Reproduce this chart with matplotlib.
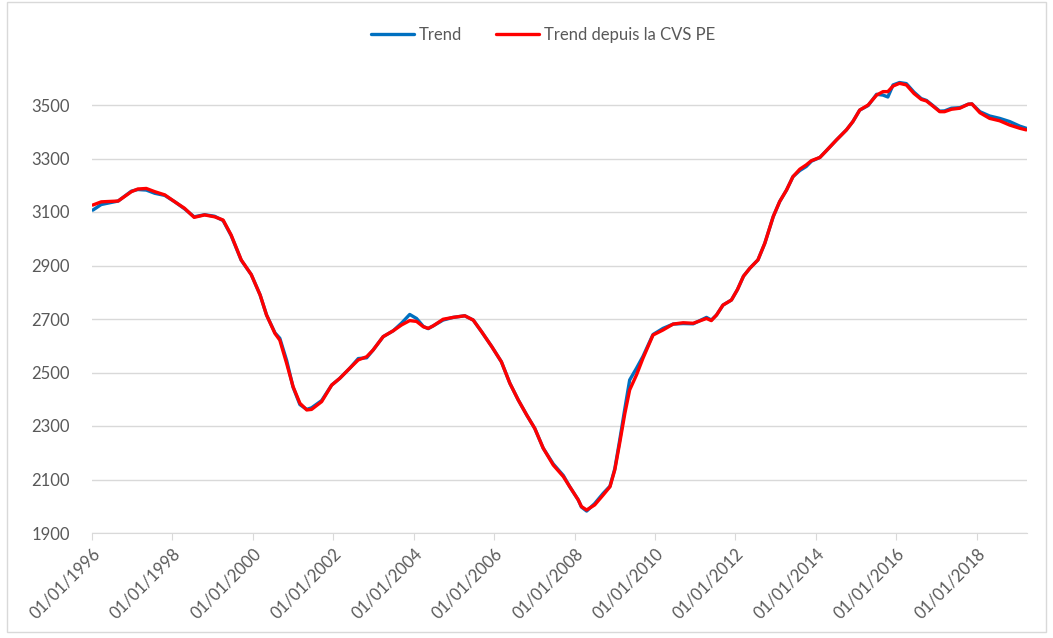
import matplotlib
matplotlib.use("Agg")
import matplotlib.pyplot as plt
from matplotlib.patches import Rectangle

# decimal years
years = [
    1996.02, 1996.23, 1996.65, 1996.98, 1997.14, 1997.35, 1997.56, 1997.81,
    1998.06, 1998.30, 1998.54, 1998.80, 1999.05, 1999.26, 1999.46, 1999.71,
    1999.96, 2000.18, 2000.34, 2000.55, 2000.67, 2000.84, 2001.00, 2001.17,
    2001.34, 2001.46, 2001.71, 2001.96, 2002.16, 2002.41, 2002.62, 2002.83,
    2002.99, 2003.24, 2003.49, 2003.70, 2003.90, 2004.07, 2004.24, 2004.36,
    2004.48, 2004.73, 2004.98, 2005.27, 2005.48, 2005.69, 2005.94, 2006.18,
    2006.39, 2006.60, 2006.81, 2007.01, 2007.22, 2007.47, 2007.72, 2007.88,
    2008.09, 2008.17, 2008.30, 2008.50, 2008.71, 2008.88, 2009.00, 2009.12,
    2009.25, 2009.37, 2009.54, 2009.70, 2009.95, 2010.20, 2010.45, 2010.70,
    2010.95, 2011.28, 2011.40, 2011.53, 2011.69, 2011.90, 2012.05, 2012.20,
    2012.36, 2012.56, 2012.73, 2012.94, 2013.10, 2013.27, 2013.43, 2013.60,
    2013.76, 2013.89, 2014.10, 2014.26, 2014.51, 2014.76, 2014.92, 2015.09,
    2015.30, 2015.51, 2015.67, 2015.79, 2015.92, 2016.08, 2016.25, 2016.44,
    2016.62, 2016.75, 2016.91, 2017.08, 2017.20, 2017.37, 2017.58, 2017.79,
    2017.88, 2018.08, 2018.32, 2018.57, 2018.82, 2019.07, 2019.23,
]

trend = [
    3107, 3128, 3141, 3178, 3184, 3182, 3170, 3162,
    3138, 3112, 3082, 3090, 3084, 3068, 3012, 2920,
    2866, 2790, 2715, 2648, 2628, 2545, 2445, 2380,
    2362, 2368, 2395, 2453, 2478, 2516, 2552, 2555,
    2584, 2634, 2656, 2685, 2717, 2702, 2672, 2664,
    2674, 2696, 2706, 2712, 2696, 2652, 2597, 2540,
    2460, 2397, 2341, 2291, 2217, 2158, 2115, 2073,
    2024, 1997, 1982, 2010, 2048, 2075, 2140, 2245,
    2365, 2472, 2516, 2560, 2642, 2665, 2681, 2683,
    2682, 2706, 2696, 2715, 2752, 2771, 2810, 2860,
    2890, 2921, 2983, 3083, 3139, 3182, 3232, 3255,
    3270, 3290, 3304, 3329, 3369, 3407, 3438, 3481,
    3498, 3540, 3537, 3530, 3575, 3584, 3580, 3548,
    3524, 3517, 3498, 3477, 3478, 3488, 3490, 3503,
    3504, 3475, 3459, 3450, 3438, 3421, 3413,
]

trend_cvs = [
    3126, 3138, 3141, 3176, 3186, 3188, 3176, 3164,
    3138, 3114, 3080, 3089, 3082, 3070, 3014, 2921,
    2866, 2790, 2715, 2646, 2621, 2534, 2447, 2385,
    2360, 2362, 2391, 2453, 2478, 2516, 2547, 2559,
    2584, 2634, 2656, 2678, 2694, 2691, 2671, 2665,
    2674, 2699, 2706, 2712, 2696, 2652, 2597, 2540,
    2460, 2397, 2341, 2291, 2217, 2154, 2111, 2073,
    2024, 1999, 1986, 2005, 2042, 2073, 2136, 2235,
    2347, 2435, 2491, 2553, 2640, 2659, 2681, 2686,
    2684, 2702, 2694, 2715, 2752, 2771, 2810, 2860,
    2890, 2921, 2983, 3083, 3139, 3182, 3232, 3260,
    3276, 3292, 3304, 3329, 3369, 3407, 3438, 3481,
    3500, 3537, 3550, 3550, 3571, 3581, 3575, 3543,
    3521, 3515, 3496, 3475, 3475, 3484, 3488, 3503,
    3504, 3471, 3450, 3441, 3425, 3413, 3407,
]

tick_years = list(range(1996, 2020, 2))
tick_labels = ["01/01/%d" % y for y in tick_years]
y_ticks = list(range(1900, 3700, 200))

GRID = "#d9d9d9"
TXT = "#595959"

plt.rcParams["font.family"] = ["Lato", "DejaVu Sans"]

fig = plt.figure(figsize=(10.53, 6.38), dpi=100)
ax = fig.add_axes([92 / 1053, 1 - 533 / 638, (1027 - 92) / 1053, (533 - 51.5) / 638])

ax.plot(years, trend, color="#0070c0", lw=2.4, label="Trend",
        solid_capstyle="round", solid_joinstyle="round")
ax.plot(years, trend_cvs, color="#ff0000", lw=2.4, label="Trend depuis la CVS PE",
        solid_capstyle="round", solid_joinstyle="round")

ax.set_xlim(1996, 2019.25)
ax.set_ylim(1900, 3700)
ax.set_yticks(y_ticks)
ax.set_xticks(tick_years)
ax.set_xticklabels(tick_labels, rotation=45, ha="right", rotation_mode="anchor")

ax.grid(axis="y", color=GRID, lw=1)
ax.set_axisbelow(True)
for s in ["left", "right", "top"]:
    ax.spines[s].set_visible(False)
ax.spines["bottom"].set_color(GRID)
ax.tick_params(axis="y", length=0, pad=16, labelsize=12, labelcolor=TXT)
ax.tick_params(axis="x", length=5, color=GRID, pad=4, labelsize=12, labelcolor=TXT)

fig.legend(loc="center", bbox_to_anchor=(543 / 1053, 1 - 35 / 638), ncol=2,
           frameon=False, fontsize=12, labelcolor=TXT, handlelength=2.6,
           columnspacing=2.0, handletextpad=0.3)

fig.patches.append(Rectangle((7 / 1053, 6 / 638), 1039 / 1053, 630 / 638,
                             transform=fig.transFigure, fill=False,
                             edgecolor=GRID, lw=1))

fig.savefig("out.png", dpi=100)
